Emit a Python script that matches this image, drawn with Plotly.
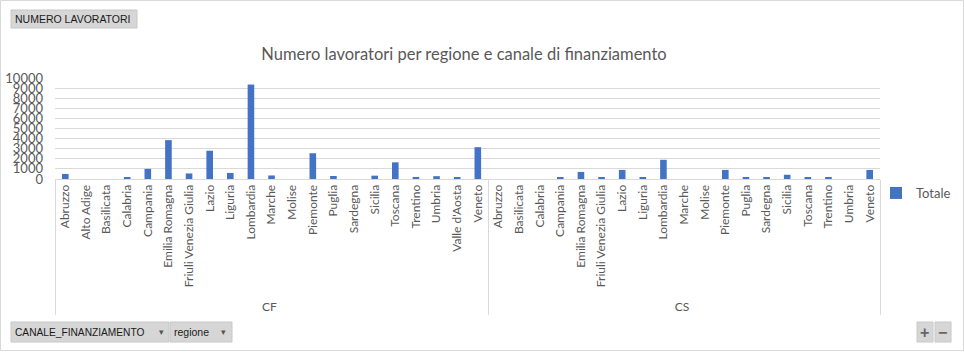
import plotly.graph_objects as go

canali = ["CF"] * 21 + ["CS"] * 19
regioni_cf = ["Abruzzo", "Alto Adige", "Basilicata", "Calabria", "Campania", "Emilia Romagna",
              "Friuli Venezia Giulia", "Lazio", "Liguria", "Lombardia", "Marche", "Molise",
              "Piemonte", "Puglia", "Sardegna", "Sicilia", "Toscana", "Trentino", "Umbria",
              "Valle d'Aosta", "Veneto"]
valori_cf = [500, 0, 0, 120, 1000, 3850, 550, 2800, 600, 9350, 350, 0,
             2550, 300, 0, 330, 1650, 200, 280, 200, 3150]
regioni_cs = ["Abruzzo", "Basilicata", "Calabria", "Campania", "Emilia Romagna",
              "Friuli Venezia Giulia", "Lazio", "Liguria", "Lombardia", "Marche", "Molise",
              "Piemonte", "Puglia", "Sardegna", "Sicilia", "Toscana", "Trentino", "Umbria", "Veneto"]
valori_cs = [0, 0, 0, 180, 700, 120, 900, 180, 1900, 0, 0,
             900, 100, 180, 420, 180, 100, 0, 900]

regioni = regioni_cf + regioni_cs
valori = valori_cf + valori_cs

FONT = "Lato"
GRAY = "#595959"
L, T, W, H = 55, 78, 825, 101

def px(x):
    return (x - L) / W

def py(y):
    return (T + H - y) / H

fig = go.Figure()
fig.add_trace(go.Bar(x=[canali, regioni], y=valori, name="Totale",
                     marker=dict(color="#4472C4", line=dict(width=0))))

shapes = []
annotations = []

# outer frame
shapes.append(dict(type="rect", xref="paper", yref="paper",
                   x0=px(0.5), x1=px(963.5), y0=py(350.5), y1=py(0.5),
                   line=dict(color="#d9d9d9", width=1), fillcolor="rgba(0,0,0,0)", layer="below"))

def box(x0, x1, y0, y1):
    shapes.append(dict(type="rect", xref="paper", yref="paper",
                       x0=px(x0), x1=px(x1), y0=py(y1), y1=py(y0),
                       line=dict(color="#c8c8c8", width=1), fillcolor="#d6d6d6"))

def label(text, tx, ty, size=10, family="Liberation Sans", color="#1a1a1a"):
    annotations.append(dict(text=text, xref="paper", yref="paper", x=px(tx), y=py(ty),
                            xanchor="left", yanchor="middle", showarrow=False,
                            font=dict(family=family, size=size, color=color)))

box(11, 137, 10, 28)
label("NUMERO LAVORATORI", 13, 19, 10.5)
box(11, 169, 322, 342)
label("CANALE_FINANZIAMENTO", 13, 332, 10.2)
label("▾", 157, 332, 9, color="#555555")
box(170, 232, 322, 342)
label("regione", 172, 332, 10.5)
label("▾", 219, 332, 9, color="#555555")
box(917, 933, 322, 342)
label("<b>+</b>", 918, 332, 16, color="#666666")
box(935, 951, 322, 342)
label("<b>−</b>", 936, 332, 16, color="#666666")

fig.update_layout(
    width=964, height=352,
    margin=dict(l=L, r=964 - L - W, t=T, b=352 - T - H, autoexpand=False),
    paper_bgcolor="white", plot_bgcolor="white",
    title=dict(text="Numero lavoratori per regione e canale di finanziamento",
               x=px(464), xref="paper", xanchor="center", y=1 - 54 / 352, yanchor="middle",
               font=dict(family=FONT, size=16.5, color=GRAY)),
    bargap=0.68,
    showlegend=True,
    legend=dict(x=px(876), y=py(193), xanchor="left", yanchor="middle",
                font=dict(family=FONT, size=13, color=GRAY), bgcolor="rgba(0,0,0,0)",
                itemwidth=30),
    xaxis=dict(type="multicategory", tickangle=-90, showgrid=False,
               showline=True, linecolor="#d9d9d9", ticks="",
               showdividers=True, dividercolor="#d9d9d9", dividerwidth=1,
               tickfont=dict(family=FONT, size=12, color=GRAY)),
    yaxis=dict(range=[0, 10000], dtick=1000, tickformat="d", showgrid=True, gridcolor="#d9d9d9",
               zeroline=False, showline=False, ticks="", ticklabelstandoff=11,
               tickfont=dict(family=FONT, size=13, color=GRAY)),
    shapes=shapes,
    annotations=annotations,
)

fig.write_html("out.html")
